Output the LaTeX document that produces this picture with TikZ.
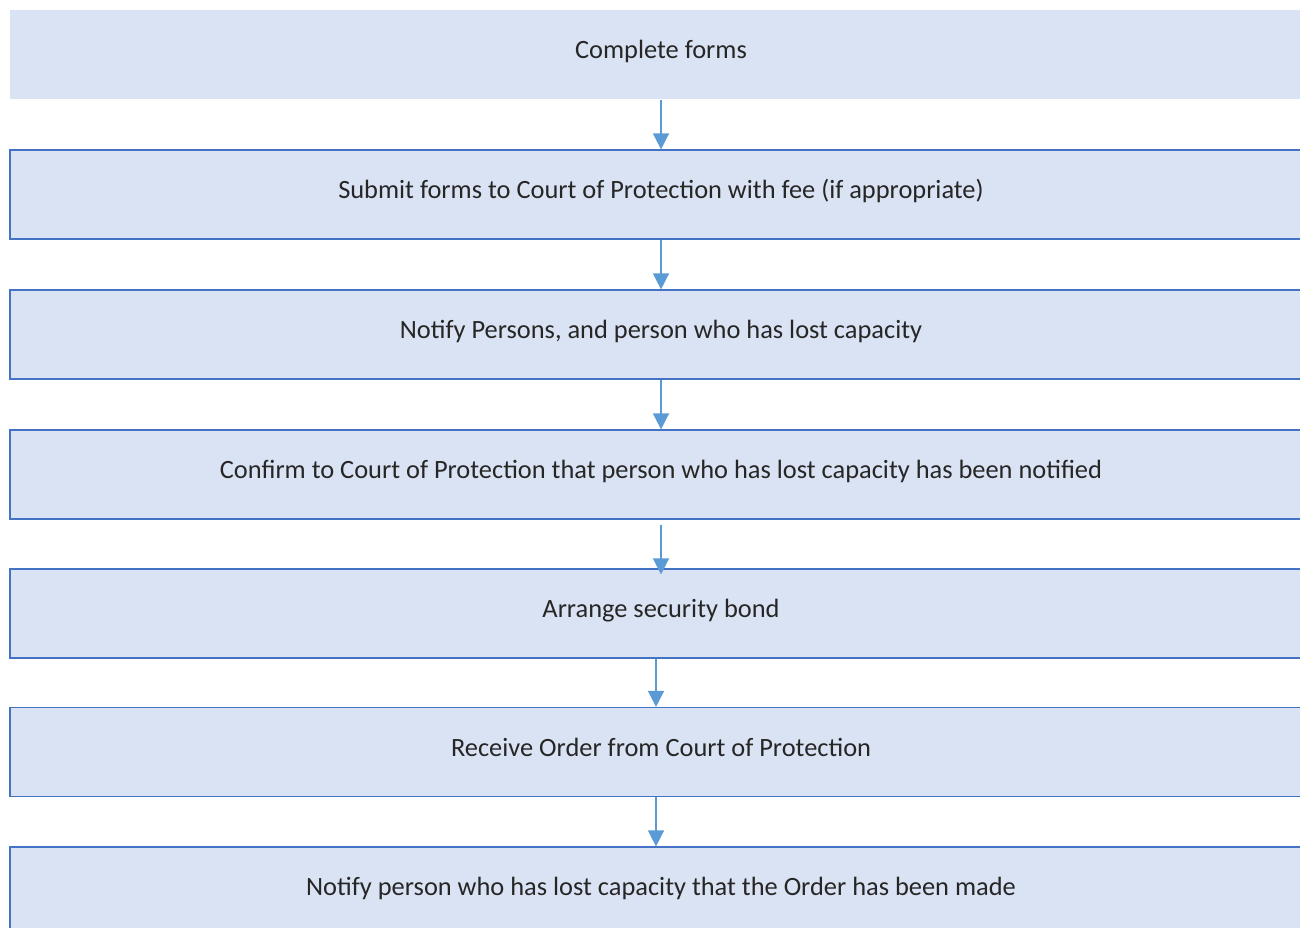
\documentclass[tikz,border=0pt]{standalone}
\usepackage{fontspec}
\setmainfont{Carlito}
\usetikzlibrary{arrows.meta}
\definecolor{boxfill}{HTML}{DAE3F3}
\definecolor{boxline}{HTML}{4472C4}
\definecolor{arrcol}{HTML}{5B9BD5}
\definecolor{txt}{HTML}{262626}
\begin{document}
\begin{tikzpicture}[x=1pt,y=-1pt,
  stepbox/.style={rectangle, fill=boxfill, draw=boxline, line width=1.2pt,
    minimum width=1302pt, minimum height=89pt, inner sep=0pt,
    font=\fontsize{26.4}{30}\selectfont, text=txt},
  plainbox/.style={stepbox, draw=none},
  lbl/.style={font=\fontsize{26.4}{30}\selectfont, text=txt, inner sep=0pt, anchor=base},
  arr/.style={draw=arrcol, line width=1.5pt, -{Triangle[width=16pt,length=16pt]}}]
\useasboundingbox (0,0) rectangle (1300,928);
\clip (0,0) rectangle (1300,928);
\node[plainbox] (b1) at (661,54.5) {};
\node[stepbox] (b2) at (661,194.5) {};
\node[stepbox] (b3) at (661,334.5) {};
\node[stepbox] (b4) at (661,474.5) {};
\node[stepbox] (b5) at (661,613.5) {};
\node[stepbox] (b6) at (661,752) {};
\node[stepbox] (b7) at (661,891.5) {};
\node[lbl] (t1) at ([yshift=-4pt]b1.center) {Complete forms};
\node[lbl] (t2) at ([yshift=-4pt]b2.center) {Submit forms to Court of Protection with fee (if appropriate)};
\node[lbl] (t3) at ([yshift=-4pt]b3.center) {Notify Persons, and person who has lost capacity};
\node[lbl] (t4) at ([yshift=-4pt]b4.center) {Confirm to Court of Protection that person who has lost capacity has been notified};
\node[lbl] (t5) at ([yshift=-4pt]b5.center) {Arrange security bond};
\node[lbl] (t6) at ([yshift=-4pt]b6.center) {Receive Order from Court of Protection};
\node[lbl] (t7) at ([yshift=-4pt]b7.center) {Notify person who has lost capacity that the Order has been made};
\draw[arr] (b1.south) -- (b2.north);
\draw[arr] (b2.south) -- (b3.north);
\draw[arr] (b3.south) -- (b4.north);
\draw[arr] ([yshift=-5pt]b4.south) -- ([yshift=-6pt]b5.north);
\draw[arr] ([xshift=-5pt]b5.south) -- ([xshift=-5pt]b6.north);
\draw[arr] ([xshift=-5pt]b6.south) -- ([xshift=-5pt]b7.north);
\end{tikzpicture}
\end{document}
